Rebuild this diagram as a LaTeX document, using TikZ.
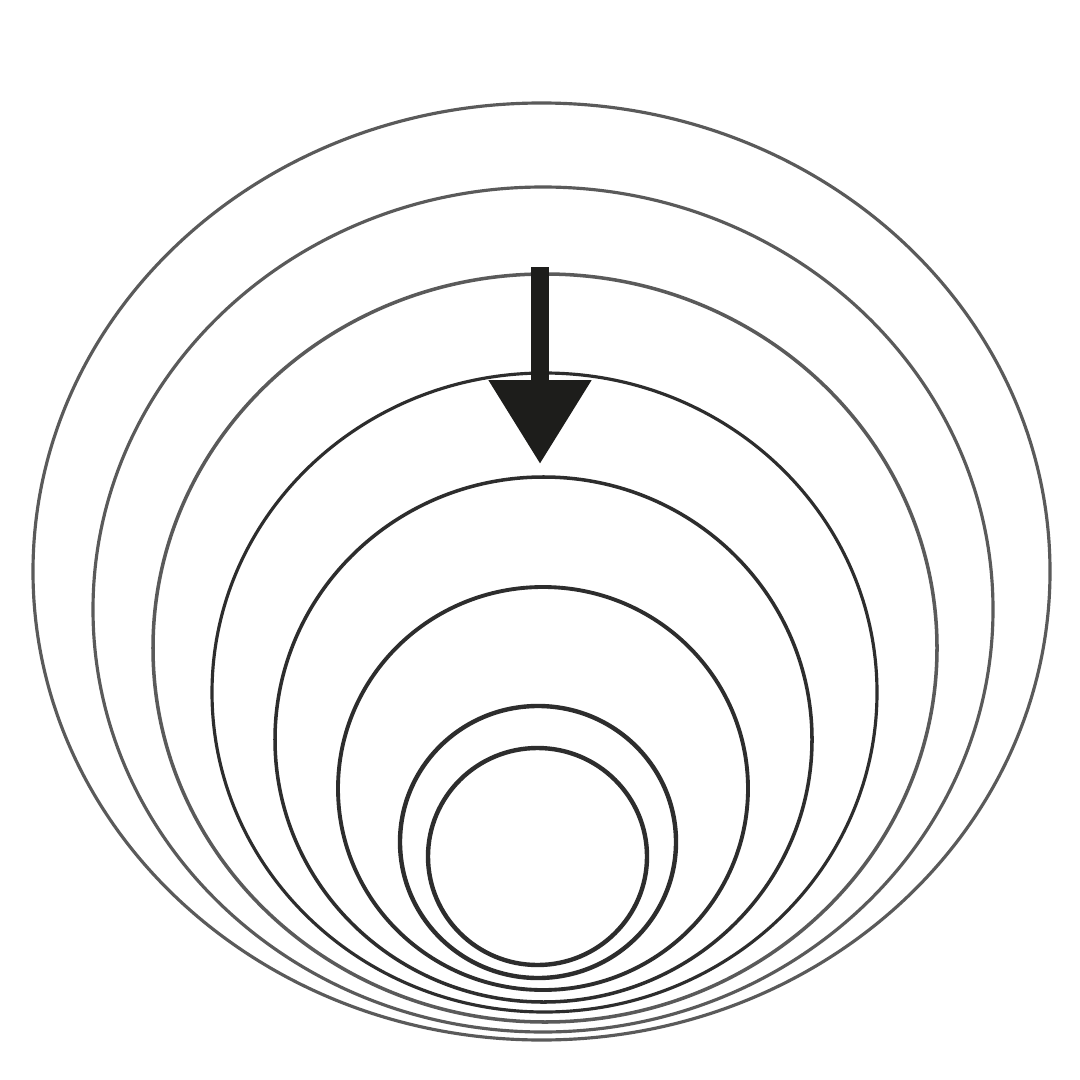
\documentclass[tikz,border=0pt]{standalone}
\usepackage{xcolor}
\definecolor{ringgrey}{RGB}{90, 90, 90}
\definecolor{ringdark}{RGB}{45, 45, 45}
\definecolor{arrowblack}{RGB}{29, 29, 27}

\begin{document}
\begin{tikzpicture}[ring/.style={line width=0.9pt},yscale=-1]
		\useasboundingbox[fill=white] (0,0) rectangle (10.8,10.8);
		% outer rings
		\draw[ring,ringgrey] (5.415,5.715) ellipse (5.085 and 4.685);
		\draw[ring,ringgrey] (5.43,6.095) ellipse (4.50 and 4.225);
		\draw[ring,ringgrey,line width=1pt] (5.45,6.48) ellipse (3.92 and 3.74);
		
		%         % middle rings
		\draw[ring,ringdark] (5.445,6.925) ellipse (3.325 and 3.195);
		\draw[ring,ringdark,line width=1pt] (5.435,7.395) ellipse (2.685 and 2.625);
		\draw[ring,ringdark,line width=1.1pt] (5.43,7.885) ellipse (2.05 and 2.015);
		
		%         % inner rings
		\draw[ring,ringdark,line width=1.25pt] (5.38,8.42) ellipse (1.38 and 1.36);
		\draw[ring,ringdark,line width=1.25pt] (5.375,8.565) ellipse (1.095 and 1.085);
		
		
		%         % arrow
		{
			\fill[arrowblack] (5.307,2.673) rectangle (5.493,3.81);
			\fill[arrowblack] (4.883,3.80) -- (5.917,3.80) -- (5.40,4.633) -- cycle;
		}
	\end{tikzpicture}
\end{document}
